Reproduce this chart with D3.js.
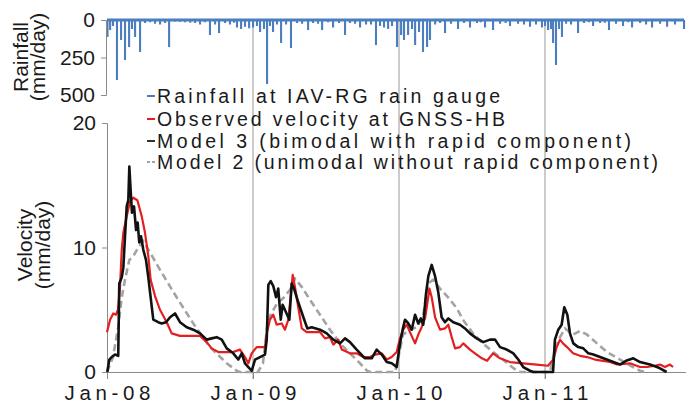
<!DOCTYPE html>
<html><head><meta charset="utf-8">
<script src="https://cdn.jsdelivr.net/npm/d3@7"></script>
<style>body{margin:0;background:#fff}svg{display:block;font-family:"Liberation Sans",Arial,sans-serif}</style>
</head><body><svg id="c" width="686" height="405"></svg>
<script>
// time as decimal year
const yearTicks = [2008, 2009, 2010, 2011];
const yearLabels = ["Jan-08", "Jan-09", "Jan-10", "Jan-11"];
const rainTicks = [0, 250, 500];
const velTicks = [0, 10, 20];

// Rainfall at IAV-RG rain gauge (mm/day)
const rainT = [2008.003,2008.021,2008.041,2008.068,2008.096,2008.123,2008.151,2008.171,2008.192,2008.226,2008.260,2008.295,2008.329,2008.363,2008.397,2008.425,2008.466,2008.500,2008.534,2008.570,2008.603,2008.637,2008.670,2008.705,2008.740,2008.767,2008.808,2008.842,2008.870,2008.890,2008.918,2008.945,2008.973,
2009.000,2009.027,2009.048,2009.075,2009.096,2009.116,2009.137,2009.164,2009.192,2009.226,2009.260,2009.301,2009.336,2009.377,2009.411,2009.445,2009.473,2009.514,2009.548,2009.589,2009.630,2009.664,2009.699,2009.733,2009.774,2009.808,2009.842,2009.870,2009.897,2009.925,2009.952,2009.986,
2010.014,2010.034,2010.062,2010.089,2010.110,2010.137,2010.164,2010.192,2010.212,2010.247,2010.281,2010.315,2010.356,2010.404,2010.445,2010.486,2010.534,2010.560,2010.589,2010.644,2010.692,2010.730,2010.760,2010.815,2010.856,2010.897,2010.938,2010.979,
2011.000,2011.021,2011.041,2011.055,2011.075,2011.096,2011.116,2011.144,2011.178,2011.226,2011.267,2011.300,2011.329,2011.377,2011.410,2011.438,2011.486,2011.534,2011.570,2011.596,2011.651,2011.692,2011.733,2011.788,2011.836,2011.890,2011.952];
const rainV = [113,67,40,400,133,267,180,60,113,213,20,15,25,30,20,180,10,12,15,18,20,30,15,100,30,87,20,30,18,50,60,45,55,
50,40,80,60,427,40,80,30,153,30,187,20,25,67,20,25,67,15,50,20,100,20,25,50,30,30,167,40,50,60,40,180,
100,133,100,60,167,80,213,180,133,30,20,87,25,60,20,50,20,15,50,67,25,20,40,25,30,45,30,50,
40,67,60,153,300,60,113,25,30,87,20,15,40,20,18,67,25,40,15,50,20,30,50,25,45,30,60];

// Observed velocity at GNSS-HB (mm/day)
const obsT = [2008.000,2008.021,2008.043,2008.062,2008.075,2008.089,2008.101,2008.112,2008.135,2008.158,2008.180,2008.208,2008.238,2008.260,2008.283,2008.299,2008.329,2008.363,2008.409,2008.443,2008.500,2008.637,2008.683,2008.717,2008.762,2008.863,2008.911,2008.945,2008.968,2008.991,
2009.025,2009.082,2009.094,2009.116,2009.139,2009.162,2009.197,2009.219,2009.242,2009.258,2009.272,2009.288,2009.310,2009.334,2009.368,2009.459,2009.493,2009.527,2009.550,2009.584,2009.608,2009.664,2009.710,2009.755,2009.801,2009.836,2009.882,2009.916,2009.950,2009.984,
2010.007,2010.029,2010.053,2010.075,2010.110,2010.132,2010.155,2010.178,2010.194,2010.208,2010.224,2010.247,2010.281,2010.315,2010.338,2010.361,2010.384,2010.418,2010.440,2010.486,2010.532,2010.568,2010.603,2010.644,2010.692,2010.760,2010.851,2010.943,
2011.021,2011.057,2011.080,2011.103,2011.123,2011.151,2011.192,2011.240,2011.288,2011.342,2011.397,2011.445,2011.493,2011.582,2011.651,2011.699,2011.753,2011.788,2011.822,2011.856,2011.877];
const obsV = [3.2,4.2,4.7,4.6,5.0,6.8,9.8,11.2,12.5,13.7,14.0,13.8,12.5,11.2,9.3,7.4,6.1,5.0,4.0,3.1,2.9,2.9,2.4,1.9,1.6,1.6,1.8,1.2,0.7,1.5,
2.0,2.0,3.1,4.2,4.6,3.8,3.9,3.4,4.2,6.1,7.8,6.8,5.2,3.5,3.2,3.2,2.7,2.8,2.2,2.6,1.8,1.5,1.5,1.2,1.2,1.4,1.5,1.0,1.2,1.6,
2.7,3.4,3.8,3.2,2.3,3.0,3.6,4.3,5.5,6.7,6.0,4.4,3.4,3.5,3.8,2.8,1.9,2.0,2.3,1.8,1.4,1.1,0.9,1.5,1.1,0.8,0.7,0.6,
0.5,1.0,2.0,2.6,2.3,2.0,1.5,1.3,1.2,1.0,0.9,0.8,0.6,0.7,0.4,0.4,0.5,0.6,0.4,0.6,0.4];

// Model 3 (bimodal with rapid component)
const m3T = [2008.002,2008.016,2008.032,2008.055,2008.077,2008.084,2008.101,2008.112,2008.123,2008.135,2008.146,2008.153,2008.162,2008.171,2008.185,2008.199,2008.210,2008.221,2008.233,2008.249,2008.267,2008.283,2008.299,2008.317,2008.351,2008.375,2008.404,2008.432,2008.466,2008.500,2008.546,2008.591,2008.637,2008.683,2008.717,2008.751,2008.786,2008.820,2008.865,2008.899,2008.923,2008.945,2008.968,2008.991,
2009.014,2009.048,2009.082,2009.094,2009.105,2009.121,2009.139,2009.158,2009.173,2009.190,2009.203,2009.226,2009.249,2009.265,2009.281,2009.310,2009.345,2009.372,2009.402,2009.459,2009.505,2009.550,2009.596,2009.630,2009.664,2009.710,2009.767,2009.813,2009.847,2009.882,2009.916,2009.950,2009.984,
2010.007,2010.025,2010.041,2010.064,2010.087,2010.110,2010.132,2010.149,2010.166,2010.185,2010.201,2010.224,2010.247,2010.269,2010.292,2010.315,2010.338,2010.372,2010.418,2010.452,2010.486,2010.532,2010.577,2010.623,2010.658,2010.692,2010.738,2010.783,2010.817,2010.851,2010.897,2010.920,
2011.055,2011.068,2011.091,2011.114,2011.132,2011.153,2011.171,2011.194,2011.228,2011.262,2011.297,2011.331,2011.377,2011.423,2011.468,2011.514,2011.555,2011.605,2011.651,2011.719,2011.767,2011.788,2011.833];
const m3V = [0,1.0,1.2,1.4,1.3,7.1,7.6,8.4,10.8,13.3,13.8,16.5,14.6,12.8,13.3,11.4,12.0,10.4,10.9,9.8,9.0,7.6,6.0,4.2,4.0,3.9,4.0,4.4,4.7,4.0,3.6,3.4,3.1,2.6,2.7,2.8,2.6,1.9,1.5,1.0,1.5,0.7,0.4,0.1,
1.0,1.2,1.4,2.6,7.0,7.3,6.9,6.0,6.7,4.2,5.4,4.8,4.2,7.1,6.7,5.6,4.4,3.5,3.6,3.4,3.1,2.6,2.3,2.7,2.4,1.8,1.1,1.1,1.8,1.4,0.8,0.7,0.4,
2.3,3.4,4.2,3.9,3.4,4.6,3.9,4.3,3.8,6.3,7.7,8.6,7.7,6.4,4.4,4.0,4.3,4.0,3.8,3.5,3.1,2.7,2.4,2.6,2.6,2.0,1.8,1.5,1.0,0.4,0.1,0,
0,2.6,3.4,3.8,5.2,4.6,3.1,2.3,2.0,1.9,1.5,1.4,1.2,1.0,0.8,0.6,0.9,1.1,0.8,0.6,0.4,0.3,0];

// Model 2 (unimodal without rapid component)
const m2T = [2008.000,2008.041,2008.077,2008.101,2008.123,2008.153,2008.180,2008.214,2008.249,2008.295,2008.363,2008.477,2008.591,2008.705,2008.820,2008.888,2008.911,
2009.034,2009.068,2009.103,2009.164,2009.205,2009.253,2009.288,2009.336,2009.390,2009.459,2009.527,2009.596,2009.664,2009.733,2009.781,2009.801,2009.973,2009.993,
2010.027,2010.075,2010.123,2010.164,2010.199,2010.233,2010.281,2010.336,2010.397,2010.438,2010.507,2010.575,2010.644,2010.712,2010.774,2010.808,2010.829,
2011.034,2011.068,2011.103,2011.137,2011.192,2011.240,2011.288,2011.356,2011.425,2011.514,2011.603,2011.651,2011.685];
const m2V = [0,1.2,3.6,6.0,7.4,9.0,9.3,10.0,10.5,9.6,8.2,6.0,3.9,2.0,0.7,0.1,0,
0,0.7,4.2,5.5,5.9,6.6,7.5,6.8,5.8,4.6,3.4,2.3,1.5,0.7,0.1,0,0,1.0,
3.0,3.4,3.6,4.4,7.1,7.4,6.7,6.0,5.1,4.2,3.1,2.3,1.6,1.0,0.4,0.1,0,
0,1.8,2.8,3.5,3.0,3.3,3.0,2.3,1.6,1.0,0.4,0.1,0];

const legendLabels = ["Rainfall at IAV-RG rain gauge","Observed velocity at GNSS-HB","Model 3 (bimodal with rapid component)","Model 2 (unimodal without rapid component)"];

const svg = d3.select("#c");
svg.append("rect").attr("width",686).attr("height",405).attr("fill","#fff");

const x = d3.scaleLinear().domain([2008, 2012]).range([107, 691]);
const yR = d3.scaleLinear().domain([0, 500]).range([20, 95]);
const yV = d3.scaleLinear().domain([0, 20]).range([372, 123]);

const axisCol = "#8a8a8a", txtCol = "#1a1a1a";
const cBlue = "#4a7ebf", cRed = "#e31f1f", cBlack = "#111", cGray = "#a3a3a3";

// vertical year gridlines
svg.append("g").selectAll("line").data(yearTicks.slice(1)).join("line")
  .attr("x1", d => x(d)).attr("x2", d => x(d))
  .attr("y1", yR(0)).attr("y2", yV(0) + 7)
  .attr("stroke", "#a8a8a8").attr("stroke-width", 1.2);

// rainfall panel
const rain = rainT.map((t, i) => ({t, v: rainV[i]}));
svg.append("g").selectAll("rect").data(rain).join("rect")
  .attr("x", d => x(d.t) - 1).attr("width", 2.1)
  .attr("y", yR(0)).attr("height", d => yR(d.v) - yR(0))
  .attr("fill", cBlue);
svg.append("line").attr("x1", x(2008)).attr("x2", 684)
  .attr("y1", yR(0)).attr("y2", yR(0)).attr("stroke", cBlue).attr("stroke-width", 2.8);

const gR = svg.append("g").attr("transform", "translate(106,0)")
  .call(d3.axisLeft(yR).tickValues(rainTicks).tickSize(5).tickPadding(6));
gR.select(".domain").attr("stroke", axisCol).attr("d", "M-5,20.5H0.5V95.5H-5");
gR.selectAll(".tick line").attr("stroke", axisCol);
gR.selectAll(".tick text").attr("font-size", 21).attr("fill", txtCol).attr("font-family", "Liberation Sans, Arial");

// velocity axes
const gV = svg.append("g").attr("transform", "translate(107,0)")
  .call(d3.axisLeft(yV).tickValues(velTicks).tickSize(5).tickPadding(6));
gV.select(".domain").attr("stroke", axisCol);
gV.selectAll(".tick line").attr("stroke", axisCol);
gV.selectAll(".tick text").attr("font-size", 21).attr("fill", txtCol).attr("font-family", "Liberation Sans, Arial");

const gX = svg.append("g").attr("transform", `translate(0,${yV(0)})`)
  .call(d3.axisBottom(x).tickValues(yearTicks).tickFormat((d, i) => yearLabels[i]).tickSize(7).tickPadding(6));
gX.select(".domain").attr("stroke", axisCol).attr("d", `M${x(2008)},0.5H686`);
gX.selectAll(".tick line").attr("stroke", axisCol);
gX.selectAll(".tick text").attr("font-size", 20.5).attr("fill", txtCol)
  .attr("font-family", "Liberation Sans, Arial")
  .attr("textLength", 86).attr("lengthAdjust", "spacing");

// series lines
const line = d3.line().x(d => x(d.t)).y(d => yV(d.v));
const mk = (T, V) => T.map((t, i) => ({t, v: V[i]}));
svg.append("path").datum(mk(m2T, m2V)).attr("d", line).attr("fill", "none")
  .attr("stroke", cGray).attr("stroke-width", 2.6).attr("stroke-dasharray", "7,4");
svg.append("path").datum(mk(obsT, obsV)).attr("d", line).attr("fill", "none")
  .attr("stroke", cRed).attr("stroke-width", 2.2).attr("stroke-linejoin", "round");
svg.append("path").datum(mk(m3T, m3V)).attr("d", line).attr("fill", "none")
  .attr("stroke", cBlack).attr("stroke-width", 2.6).attr("stroke-linejoin", "round");

// axis titles
const title = (cx, lines, xs) => {
  const t = svg.append("text").attr("transform", `rotate(-90)`).attr("text-anchor", "middle")
    .attr("font-size", 21).attr("fill", txtCol);
  lines.forEach((s, i) => t.append("tspan").attr("x", -cx).attr("y", xs[i]).text(s));
};
title(57, ["Rainfall", "(mm/day)"], [28, 45]);
title(245, ["Velocity", "(mm/day)"], [32, 50]);

// legend
const legY = [96, 119, 141, 162];
const legW = [343, 348, 474, 501];
const legCol = [cBlue, cRed, "#333", cGray];
const lg = svg.append("g");
legendLabels.forEach((s, i) => {
  lg.append("line").attr("x1", 147).attr("x2", i === 3 ? 156 : 155).attr("y1", legY[i]).attr("y2", legY[i])
    .attr("stroke", legCol[i]).attr("stroke-width", 2)
    .attr("stroke-dasharray", i === 3 ? "3,2" : null);
  lg.append("text").attr("x", 157).attr("y", legY[i] + 7).attr("font-size", 19.5).attr("fill", txtCol)
    .attr("textLength", legW[i]).attr("lengthAdjust", "spacing").text(s);
});
</script></body></html>
